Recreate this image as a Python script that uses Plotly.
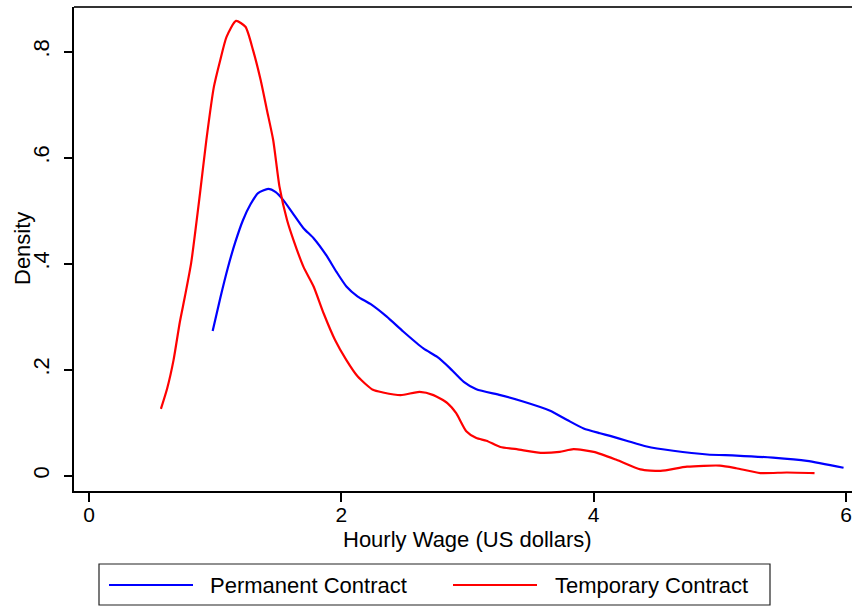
import plotly.graph_objects as go

# ---- data ----
perm_x = [0.98, 1.04, 1.10, 1.16, 1.22, 1.28, 1.34, 1.42, 1.48, 1.54, 1.61, 1.70, 1.78, 1.88, 1.96, 2.04,
          2.13, 2.23, 2.36, 2.49, 2.65, 2.76, 2.86, 2.97, 3.07, 3.26, 3.44, 3.65, 3.79, 3.92, 4.05, 4.13,
          4.26, 4.42, 4.63, 4.90, 5.13, 5.42, 5.69, 5.98]
perm_y = [0.273, 0.335, 0.392, 0.441, 0.482, 0.512, 0.533, 0.541, 0.535, 0.520, 0.497, 0.467, 0.448, 0.416,
          0.385, 0.357, 0.338, 0.324, 0.300, 0.272, 0.240, 0.224, 0.203, 0.177, 0.163, 0.152, 0.140, 0.123,
          0.105, 0.089, 0.080, 0.075, 0.066, 0.055, 0.047, 0.040, 0.038, 0.034, 0.028, 0.015]

temp_x = [0.57, 0.62, 0.67, 0.72, 0.76, 0.81, 0.88, 0.93, 0.99, 1.04, 1.09, 1.165, 1.24, 1.30, 1.36, 1.41,
          1.46, 1.51, 1.57, 1.62, 1.70, 1.78, 1.86, 1.95, 2.04, 2.13, 2.25, 2.33, 2.47, 2.62, 2.73, 2.84,
          2.91, 2.99, 3.07, 3.15, 3.26, 3.39, 3.58, 3.73, 3.84, 4.00, 4.18, 4.37, 4.53, 4.74, 5.00, 5.13,
          5.32, 5.53, 5.75]
temp_y = [0.126, 0.165, 0.218, 0.290, 0.338, 0.402, 0.533, 0.633, 0.734, 0.784, 0.828, 0.858, 0.847, 0.803,
          0.747, 0.690, 0.633, 0.545, 0.482, 0.445, 0.394, 0.357, 0.306, 0.256, 0.218, 0.187, 0.162, 0.157,
          0.152, 0.158, 0.152, 0.137, 0.118, 0.084, 0.071, 0.066, 0.054, 0.050, 0.043, 0.045, 0.050, 0.045,
          0.030, 0.012, 0.009, 0.017, 0.019, 0.014, 0.005, 0.006, 0.005]

series_names = ["Permanent Contract", "Temporary Contract"]
series_colors = ["#0000ff", "#ff0000"]

x_ticks = [0, 2, 4, 6]
x_tick_labels = ["0", "2", "4", "6"]
y_ticks = [0, 0.2, 0.4, 0.6, 0.8]
y_tick_labels = ["0", ".2", ".4", ".6", ".8"]

FONT = "Liberation Sans, Arial, Helvetica, sans-serif"

fig = go.Figure()
fig.add_trace(go.Scatter(x=perm_x, y=perm_y, mode="lines", name=series_names[0],
                         line=dict(color=series_colors[0], width=2.2, shape="spline", smoothing=0.6),
                         showlegend=False))
fig.add_trace(go.Scatter(x=temp_x, y=temp_y, mode="lines", name=series_names[1],
                         line=dict(color=series_colors[1], width=2.2, shape="spline", smoothing=0.6),
                         showlegend=False))

W, H = 852, 606
L, R, T, B = 74, 0, 7, 115
pw, ph = W - L - R, H - T - B


def px_x(p):
    return (p - L) / pw


def px_y(p):
    return (H - B - p) / ph


fig.update_layout(
    width=W, height=H,
    margin=dict(l=L, r=R, t=T, b=B, pad=0, autoexpand=False),
    paper_bgcolor="white", plot_bgcolor="white",
    font=dict(family=FONT, size=22, color="black"),
    showlegend=False,
)
fig.update_xaxes(range=[-0.1189, 6.047], tickvals=x_ticks, ticktext=x_tick_labels,
                 showgrid=False, zeroline=False, showline=True, linecolor="black", linewidth=1.5,
                 ticks="outside", ticklen=9, tickwidth=1.5, tickcolor="black",
                 tickfont=dict(size=21), ticklabelstandoff=-5, automargin=False)
fig.update_yaxes(range=[-0.0289, 0.8843], tickvals=y_ticks, ticktext=y_tick_labels,
                 showgrid=False, zeroline=False, showline=True, linecolor="black", linewidth=1.5,
                 ticks="outside", ticklen=8, tickwidth=1.5, tickcolor="black",
                 tickangle=-90, tickfont=dict(size=22), ticklabelstandoff=6, automargin=False)

# top frame line of plot region
fig.add_shape(type="line", xref="paper", yref="paper", x0=0, x1=1, y0=1, y1=1,
              line=dict(color="#333333", width=2))

# axis titles
fig.add_annotation(text="Hourly Wage (US dollars)", xref="paper", yref="paper",
                   x=px_x(467), y=px_y(539), xanchor="center", yanchor="middle",
                   showarrow=False, font=dict(size=22))
fig.add_annotation(text="Density", xref="paper", yref="paper", textangle=-90,
                   x=px_x(22), y=px_y(249), xanchor="center", yanchor="middle",
                   showarrow=False, font=dict(size=22))

# legend box (drawn like the reference)
fig.add_shape(type="rect", xref="paper", yref="paper",
              x0=px_x(99), x1=px_x(770), y0=px_y(564), y1=px_y(605),
              line=dict(color="#222222", width=1.2), fillcolor="white", layer="below")
leg_y = px_y(585)
for (x0, x1, tx), name, col in zip([(109, 193, 208), (453, 537, 553)], series_names, series_colors):
    fig.add_shape(type="line", xref="paper", yref="paper", x0=px_x(x0), x1=px_x(x1),
                  y0=leg_y, y1=leg_y, line=dict(color=col, width=2))
    fig.add_annotation(text=name, xref="paper", yref="paper", x=px_x(tx), y=leg_y,
                       xanchor="left", yanchor="middle", showarrow=False, font=dict(size=22))

fig.write_html("out.html", config={"displayModeBar": False},
               post_script="document.body.style.margin='0px';document.body.style.overflow='hidden';")
